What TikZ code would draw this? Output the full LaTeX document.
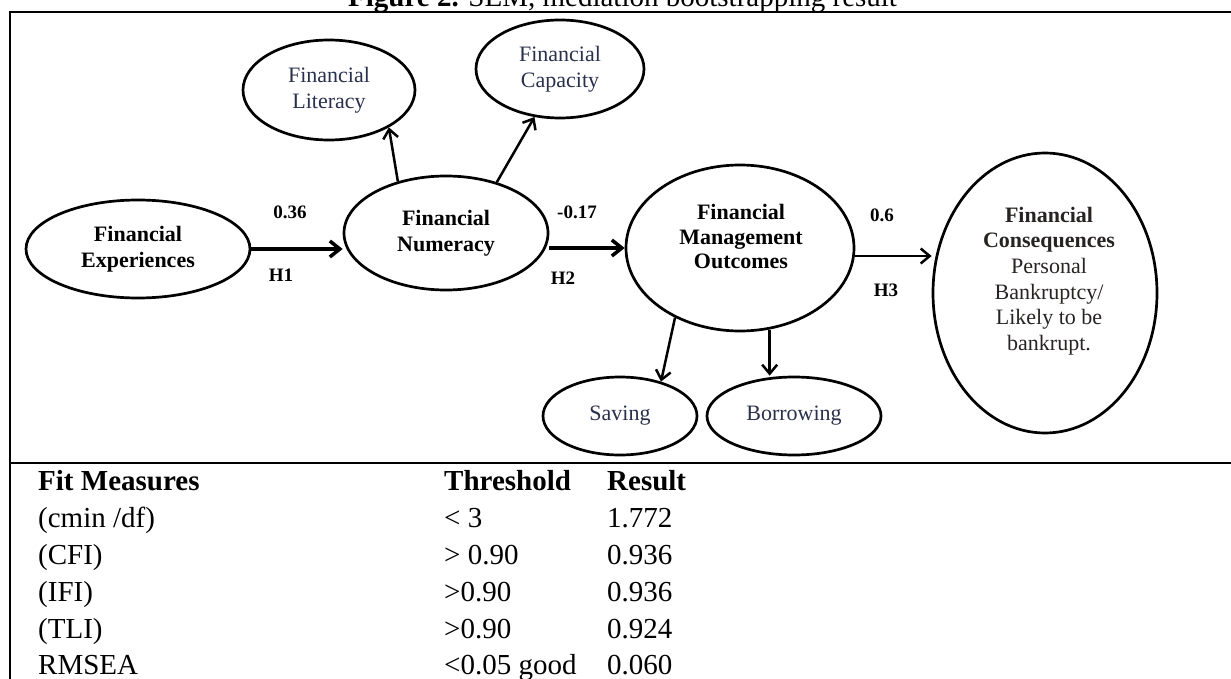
\documentclass[tikz,border=0pt]{standalone}
\usepackage{fontspec}
\setmainfont{Liberation Serif}
\usetikzlibrary{shapes.geometric, arrows.meta}

\definecolor{labelblue}{RGB}{40,48,75}
\definecolor{bodygray}{RGB}{40,35,35}

\tikzset{
  latent/.style={draw, ellipse, line width=2.7pt, inner sep=0pt, align=center,
    font=\fontsize{22}{25.5}\selectfont},
  thin latent/.style={latent, text=labelblue},
  bold latent/.style={latent, font=\fontsize{22}{25.5}\selectfont\bfseries},
  link/.style={-{Straight Barb[length=9pt, width=15pt]}, line width=2.5pt},
  main link/.style={-{Straight Barb[length=10pt, width=16pt]}, line width=3.5pt},
  coef/.style={font=\fontsize{19}{21}\selectfont\bfseries},
  cell/.style={anchor=base west, inner sep=0pt, font=\fontsize{29}{32}\selectfont},
  head cell/.style={cell, font=\fontsize{29}{32}\selectfont\bfseries},
}

\begin{document}
\begin{tikzpicture}[x=1pt, y=-1pt]
  \useasboundingbox (0, 0) rectangle (1231, 679);

  % title and frame
  \node[cell] (title) at (348, 7) {\textbf{Figure 2.} SEM, mediation bootstrapping result};
  \draw[line width=2.4pt] (1231, 12) -- (10, 12) -- (10, 679);
  \draw[line width=2.4pt] (10, 463) -- (1231, 463);

  % latent variables
  \node[bold latent, minimum width=224pt, minimum height=98pt] (exp) at (138, 249) {Financial\\Experiences};
  \node[bold latent, minimum width=204pt, minimum height=114pt] (num) at (446, 233) {Financial\\Numeracy};
  \node[thin latent, minimum width=172pt, minimum height=100pt] (lit) at (329, 90) {Financial\\Literacy};
  \node[thin latent, minimum width=168pt, minimum height=98pt] (cap) at (560, 69) {Financial\\Capacity};
  \node[latent, minimum width=228pt, minimum height=166pt] (fmo) at (740, 248) {};
  \node[align=center, font=\fontsize{22}{24.5}\selectfont\bfseries] (fmo-txt) at (741, 237) {Financial\\Management\\Outcomes};
  \node[latent, minimum width=224pt, minimum height=280pt] (con) at (1045, 293) {};
  \node[align=center, text=bodygray, font=\fontsize{22}{25.6}\selectfont] (con-txt) at (1049, 281)
    {\textbf{Financial}\\\textbf{Consequences}\\Personal\\Bankruptcy/\\Likely to be\\bankrupt.};
  \node[thin latent, minimum width=154pt, minimum height=78pt] (sav) at (620, 416) {Saving};
  \node[thin latent, minimum width=174pt, minimum height=78pt] (bor) at (794, 416) {Borrowing};

  % paths
  \draw[main link] (exp.east) -- (exp.east -| num.west);
  \draw[main link] (num.east |- fmo.west) -- (fmo.west);
  \draw[link] (fmo.-4) -- (fmo.-4 -| con.west);
  \draw[link] (num.133) -- (lit.-32);
  \draw[link] (num.45) -- (cap.-118);
  \draw[link] (fmo.-133) -- (sav.40);
  \draw[link] (fmo.-70) -- (fmo.-70 |- bor.north);

  % coefficients
  \node[coef] (c1) at (290, 212) {0.36};
  \node[coef] (h1) at (281, 275) {H1};
  \node[coef] (c2) at (577, 212) {-0.17};
  \node[coef] (h2) at (563, 278) {H2};
  \node[coef] (c3) at (882, 215) {0.6};
  \node[coef] (h3) at (886, 290) {H3};

  % fit table
  \node[head cell] (t-name) at (38, 490) {Fit Measures};
  \node[head cell] (t-thr) at (444, 490) {Threshold};
  \node[head cell] (t-res) at (607, 490) {Result};
  \node[cell] (r1-name) at (38, 527) {(cmin /df)};
  \node[cell] (r1-thr) at (444, 527) {< 3};
  \node[cell] (r1-res) at (607, 527) {1.772};
  \node[cell] (r2-name) at (38, 564) {(CFI)};
  \node[cell] (r2-thr) at (444, 564) {> 0.90};
  \node[cell] (r2-res) at (607, 564) {0.936};
  \node[cell] (r3-name) at (38, 601) {(IFI)};
  \node[cell] (r3-thr) at (444, 601) {>0.90};
  \node[cell] (r3-res) at (607, 601) {0.936};
  \node[cell] (r4-name) at (38, 638) {(TLI)};
  \node[cell] (r4-thr) at (444, 638) {>0.90};
  \node[cell] (r4-res) at (607, 638) {0.924};
  \node[cell] (r5-name) at (38, 674) {RMSEA};
  \node[cell] (r5-thr) at (444, 674) {<0.05 good};
  \node[cell] (r5-res) at (607, 674) {0.060};
\end{tikzpicture}
\end{document}
